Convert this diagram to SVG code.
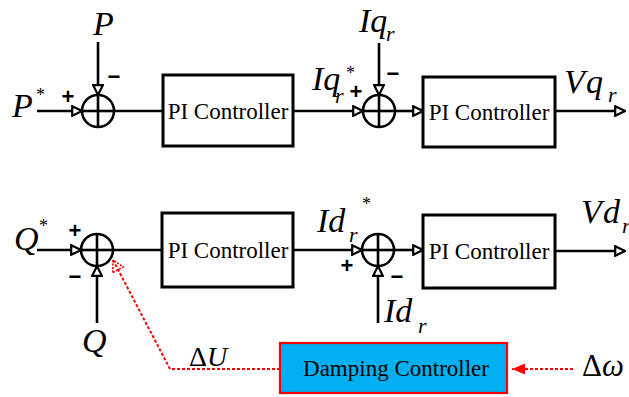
<svg xmlns="http://www.w3.org/2000/svg" width="629" height="397" viewBox="0 0 629 397">
<style>
.ln{stroke:#000;stroke-width:2.6;fill:none}
.box{stroke:#000;stroke-width:3;fill:#fff}
.sum{stroke:#000;stroke-width:2.6;fill:#fff}
.bt{font-family:"Liberation Serif","Times New Roman",serif;font-size:23px;fill:#000;text-anchor:middle}
.lb{font-family:"Liberation Serif","Times New Roman",serif;font-style:italic;font-size:34px;fill:#000}
.sb{font-size:22px}
.st{font-family:"Liberation Serif","Times New Roman",serif;font-size:18px;fill:#000}
.sg{font-family:"Liberation Sans",Arial,sans-serif;font-weight:bold;font-size:22px;fill:#000;text-anchor:middle}
.red{stroke:#ff0000;stroke-width:2;stroke-dasharray:3 2;fill:none}
</style>
<defs>
<marker id="oa" viewBox="0 0 12 12" refX="11" refY="6" markerWidth="12" markerHeight="12" markerUnits="userSpaceOnUse" orient="auto">
<path d="M1.2,1.2 L11,6 L1.2,10.8 Z" fill="#fff" stroke="#000" stroke-width="2.2"/>
</marker>
<marker id="ra" viewBox="0 0 14 14" refX="12" refY="7" markerWidth="14" markerHeight="14" markerUnits="userSpaceOnUse" orient="auto">
<path d="M1,1 L12,7 L1,13 Z" fill="none" stroke="#ff0000" stroke-width="1.6" stroke-dasharray="2 1.5"/>
</marker>
<marker id="rf" viewBox="0 0 14 12" refX="13" refY="6" markerWidth="14" markerHeight="12" markerUnits="userSpaceOnUse" orient="auto">
<path d="M0,0.5 L13,6 L0,11.5 Z" fill="#ff0000"/>
</marker>
</defs>

<g id="connectors">
<line class="ln" x1="37" y1="111" x2="82" y2="111" marker-end="url(#oa)"/>
<line class="ln" x1="98" y1="42" x2="98" y2="95" marker-end="url(#oa)"/>
<line class="ln" x1="114" y1="111" x2="163" y2="111"/>
<line class="ln" x1="293" y1="111" x2="363" y2="111" marker-end="url(#oa)"/>
<line class="ln" x1="379" y1="43" x2="379" y2="95" marker-end="url(#oa)"/>
<line class="ln" x1="395" y1="111" x2="423" y2="111" marker-end="url(#oa)"/>
<line class="ln" x1="555" y1="111" x2="625" y2="111" marker-end="url(#oa)"/>
<line class="ln" x1="37" y1="250" x2="81" y2="250" marker-end="url(#oa)"/>
<line class="ln" x1="97" y1="323" x2="97" y2="266" marker-end="url(#oa)"/>
<line class="ln" x1="113" y1="250" x2="162" y2="250"/>
<line class="ln" x1="293" y1="250" x2="362" y2="250" marker-end="url(#oa)"/>
<line class="ln" x1="378" y1="323" x2="378" y2="266" marker-end="url(#oa)"/>
<line class="ln" x1="394" y1="250" x2="423" y2="250" marker-end="url(#oa)"/>
<line class="ln" x1="555" y1="251" x2="625" y2="251" marker-end="url(#oa)"/>
<polyline class="red" points="280,369 170,369 113,260" marker-end="url(#ra)"/>
<line class="red" x1="573" y1="369" x2="512" y2="369" marker-end="url(#rf)"/>
</g>

<g id="sum1">
<circle class="sum" cx="98" cy="111" r="16"/>
<line class="ln" x1="82" y1="111" x2="114" y2="111"/>
<line class="ln" x1="98" y1="95" x2="98" y2="127"/>
<text class="sg" x="68" y="104">+</text>
<text class="sg" x="114" y="84">−</text>
</g>
<g id="sum2">
<circle class="sum" cx="379" cy="111" r="16"/>
<line class="ln" x1="363" y1="111" x2="395" y2="111"/>
<line class="ln" x1="379" y1="95" x2="379" y2="127"/>
<text class="sg" x="356" y="99">+</text>
<text class="sg" x="393" y="81">−</text>
</g>
<g id="sum3">
<circle class="sum" cx="97" cy="250" r="16"/>
<line class="ln" x1="81" y1="250" x2="113" y2="250"/>
<line class="ln" x1="97" y1="234" x2="97" y2="266"/>
<text class="sg" x="75" y="238">+</text>
<text class="sg" x="75" y="284">−</text>
</g>
<g id="sum4">
<circle class="sum" cx="378" cy="250" r="16"/>
<line class="ln" x1="362" y1="250" x2="394" y2="250"/>
<line class="ln" x1="378" y1="234" x2="378" y2="266"/>
<text class="sg" x="347" y="273">+</text>
<text class="sg" x="397" y="284">−</text>
</g>

<g id="pi1">
<rect class="box" x="163" y="75" width="130" height="71"/>
<text class="bt" x="228" y="119">PI Controller</text>
</g>
<g id="pi2">
<rect class="box" x="423" y="77" width="132" height="70"/>
<text class="bt" x="489" y="120">PI Controller</text>
</g>
<g id="pi3">
<rect class="box" x="162" y="213" width="131" height="74"/>
<text class="bt" x="228" y="258">PI Controller</text>
</g>
<g id="pi4">
<rect class="box" x="423" y="215" width="132" height="73"/>
<text class="bt" x="489" y="259">PI Controller</text>
</g>
<g id="damping">
<rect x="280" y="343" width="227" height="50" fill="#00b0f0" stroke="#ff0000" stroke-width="2.2"/>
<text class="bt" x="396" y="376">Damping Controller</text>
</g>

<g id="labels">
<text class="lb" x="93" y="35">P</text>
<text class="lb" x="12" y="117">P</text>
<text class="st" x="36" y="101">*</text>
<text class="lb" x="359" y="32">I<tspan>q</tspan><tspan class="sb" x="386" y="41">r</tspan></text>
<text class="lb" x="312" y="90">I<tspan>q</tspan><tspan class="sb" x="335" y="103">r</tspan></text>
<text class="st" x="346" y="79">*</text>
<text class="lb" x="564" y="93">V<tspan x="586">q</tspan><tspan class="sb" x="608" y="102">r</tspan></text>
<text class="lb" x="14" y="250">Q</text>
<text class="st" x="39" y="232">*</text>
<text class="lb" x="82" y="352">Q</text>
<text class="lb" x="317" y="232">I<tspan>d</tspan><tspan class="sb" x="349" y="242">r</tspan></text>
<text class="st" x="362" y="210">*</text>
<text class="lb" x="384" y="322">I<tspan>d</tspan><tspan class="sb" x="418" y="333">r</tspan></text>
<text class="lb" x="581" y="223">V<tspan x="603">d</tspan><tspan class="sb" x="622" y="233">r</tspan></text>
<text class="lb" x="189" y="366" style="font-size:28px"><tspan style="font-style:normal">Δ</tspan>U</text>
<text class="lb" x="582" y="376" style="font-size:31px"><tspan style="font-style:normal">Δ</tspan>ω</text>
</g>
</svg>
